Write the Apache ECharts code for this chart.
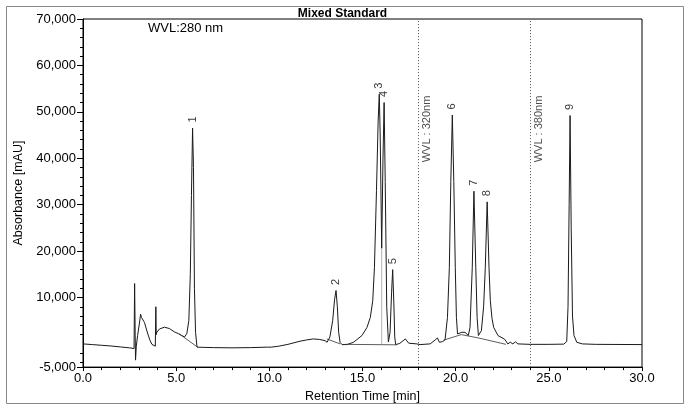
<!DOCTYPE html>
<html>
<head>
<meta charset="utf-8">
<script src="https://cdn.jsdelivr.net/npm/echarts@6/dist/echarts.min.js"></script>
<style>
html,body{margin:0;padding:0;background:#fff;}
#chart{width:685px;height:408px;}
</style>
</head>
<body>
<div id="chart"></div>
<script>
// Chromatogram trace (retention time in min, absorbance in mAU)
const retentionTime = [
  0.00,0.50,1.00,1.50,2.00,2.50,2.74,2.77,2.80,2.82,2.86,2.93,2.97,3.03,3.09,3.14,3.18,3.22,3.30,3.40,
  3.50,3.60,3.70,3.80,3.88,3.91,3.93,3.96,4.10,4.37,4.64,4.90,5.12,5.30,5.45,5.57,5.68,5.76,5.82,5.88,
  5.93,5.98,6.04,6.12,6.50,7.00,8.00,9.00,9.90,10.00,10.10,10.50,11.00,11.65,12.00,12.36,12.70,12.99,13.10,13.25,
  13.40,13.50,13.58,13.65,13.72,13.80,13.90,14.16,14.52,14.97,15.24,15.42,15.55,15.64,15.75,15.84,15.90,15.95,16.03,16.10,
  16.16,16.22,16.30,16.39,16.48,16.56,16.62,16.68,16.73,16.78,17.00,17.30,17.48,17.92,18.09,18.63,18.90,19.02,19.13,19.30,
  19.43,19.56,19.66,19.74,19.82,19.90,19.98,20.04,20.10,20.33,20.50,20.68,20.77,20.89,20.98,21.08,21.15,21.22,21.30,21.38,
  21.50,21.59,21.69,21.79,21.86,21.95,22.04,22.27,22.63,22.80,22.93,23.07,23.21,23.34,24.00,25.00,25.80,25.96,26.03,26.09,
  26.14,26.20,26.27,26.35,26.50,26.80,27.50,30.00
];
const absorbance = [
  0,-150,-300,-450,-650,-850,-1000,13000,2000,-3500,-500,1800,2200,4500,6400,5700,6100,5900,4600,3200,
  1900,700,-100,-500,-500,8000,2000,2500,3200,3600,3300,2600,2200,1800,1500,2200,5000,15000,32000,46500,
  38000,12000,2500,-700,-750,-800,-850,-800,-700,-350,-700,-500,-100,580,850,1070,950,700,350,1500,
  5000,9500,11500,8000,2500,300,-150,-150,350,1800,3550,5700,9300,16400,33000,48000,53800,45000,20600,40000,
  52000,35000,8000,400,2500,11000,16000,9000,1500,-150,100,1070,150,0,-150,0,850,1280,350,500,
  850,5700,16400,35000,49300,35000,16400,5700,2150,2500,2500,1800,3550,16400,32900,16400,5700,1800,1500,2850,
  8000,16400,30600,16400,9300,5500,3550,1800,1000,0,350,0,450,0,-100,-100,-50,500,8000,30000,
  49200,25000,6000,1800,350,0,-100,-150
];

// Integration baselines drawn by the data system (null = gap)
const baselineTime  = [5.15, 6.15, null, 13.08, 13.80, null, 14.06, 16.83, null, 19.35, 20.30, 21.20, 22.70];
const baselineValue = [2200, -700, null, 1070, 0, null, -100, -200, null, 800, 2000, 1300, -100];
const dropTime  = [16.03, 16.03];
const dropValue = [20600, -100];

// Peak annotations
const peakNames   = ['1','2','3','4','5','6','7','8','9'];
const peakTimes   = [5.88, 13.58, 15.90, 16.16, 16.62, 19.82, 20.98, 21.69, 26.14];
const peakHeights = [46500, 11500, 53800, 52000, 16000, 49300, 32900, 30600, 49200];

// Wavelength switch markers
const wvlTimes  = [18.0, 24.0];
const wvlLabels = ['WVL : 320nm', 'WVL : 380nm'];
const wvlLabelValue = [46300, 46300];
const wvlLabelOffset = 0.47;

// Axis ticks
const yLabelValues = [-5000, 10000, 20000, 30000, 40000, 50000, 60000, 70000];

const FONT = "'Liberation Sans', Arial, sans-serif";

const trace = retentionTime.map((t, i) => [t, absorbance[i]]);
const baselines = baselineTime.map((t, i) => t === null ? [null, null] : [t, baselineValue[i]]);
const dropLine = dropTime.map((t, i) => [t, dropValue[i]]);
const peaks = peakNames.map((n, i) => ({ name: n, value: [peakTimes[i], peakHeights[i]] }));
const wvlText = wvlLabels.map((n, i) => ({ name: n, value: [wvlTimes[i] + wvlLabelOffset, wvlLabelValue[i]] }));

const chart = echarts.init(document.getElementById('chart'), null, { renderer: 'canvas' });
chart.setOption({
  animation: false,
  backgroundColor: '#fff',
  title: [
    { text: 'Mixed Standard', left: 'center', top: 8, padding: 0,
      textStyle: { fontFamily: FONT, fontSize: 12, fontWeight: 'bold', color: '#000' } },
    { text: 'WVL:280 nm', left: 148, top: 22, padding: 0,
      textStyle: { fontFamily: FONT, fontSize: 13, fontWeight: 'normal', color: '#000' } }
  ],
  graphic: [
    { type: 'rect', left: 4, top: 4, shape: { width: 677, height: 397 },
      style: { fill: 'none', stroke: '#888', lineWidth: 1 }, silent: true }
  ],
  grid: { left: 83, right: 43, top: 19, bottom: 37, show: true, borderColor: '#000', borderWidth: 1, backgroundColor: 'transparent' },
  xAxis: {
    type: 'value', min: 0, max: 30, interval: 5,
    name: 'Retention Time [min]', nameLocation: 'middle', nameGap: 17,
    nameTextStyle: { fontFamily: FONT, fontSize: 12.5, color: '#000' },
    axisLine: { show: true, onZero: false, lineStyle: { color: '#000', width: 1 } },
    axisTick: { show: true, length: 4, lineStyle: { color: '#000' } },
    minorTick: { show: true, splitNumber: 5, length: 3, lineStyle: { color: '#000' } },
    axisLabel: { fontFamily: FONT, fontSize: 13, color: '#000', margin: 5, formatter: v => v.toFixed(1) },
    splitLine: { show: false }, minorSplitLine: { show: false }
  },
  yAxis: {
    type: 'value', min: -5000, max: 70000, splitNumber: 8,
    name: 'Absorbance [mAU]', nameLocation: 'middle', nameGap: 57,
    nameTextStyle: { fontFamily: FONT, fontSize: 12.5, color: '#000' },
    axisLine: { show: true, onZero: false, lineStyle: { color: '#000', width: 1 } },
    axisTick: { show: true, length: 6, customValues: yLabelValues, lineStyle: { color: '#000' } },
    minorTick: { show: true, splitNumber: 5, length: 3, lineStyle: { color: '#000' } },
    axisLabel: { fontFamily: FONT, fontSize: 13, color: '#000', margin: 7, customValues: yLabelValues,
      formatter: v => v.toLocaleString('en-US') },
    splitLine: { show: false }, minorSplitLine: { show: false }
  },
  series: [
    {
      type: 'line', data: trace, showSymbol: false, silent: true,
      lineStyle: { color: '#1a1a1a', width: 1 },
      markLine: {
        silent: true, symbol: 'none', label: { show: false },
        lineStyle: { color: '#555', type: [1, 2], width: 1 },
        data: wvlTimes.map(t => ({ xAxis: t }))
      }
    },
    {
      type: 'line', data: baselines, showSymbol: false, silent: true, connectNulls: false,
      lineStyle: { color: '#333', width: 0.8 }
    },
    {
      type: 'line', data: dropLine, showSymbol: false, silent: true,
      lineStyle: { color: '#999', width: 0.8 }
    },
    {
      type: 'scatter', data: peaks, symbolSize: 1, silent: true,
      itemStyle: { color: 'rgba(0,0,0,0)' },
      label: { show: true, formatter: '{b}', position: 'top', distance: 5, rotate: 90,
        align: 'left', verticalAlign: 'middle',
        fontFamily: FONT, fontSize: 11, color: '#000' }
    },
    {
      type: 'scatter', data: wvlText, symbolSize: 1, silent: true,
      itemStyle: { color: 'rgba(0,0,0,0)' },
      label: { show: true, formatter: '{b}', position: 'inside', rotate: 90,
        align: 'center', verticalAlign: 'middle',
        fontFamily: FONT, fontSize: 11, color: '#222' }
    }
  ]
});
</script>
</body>
</html>
